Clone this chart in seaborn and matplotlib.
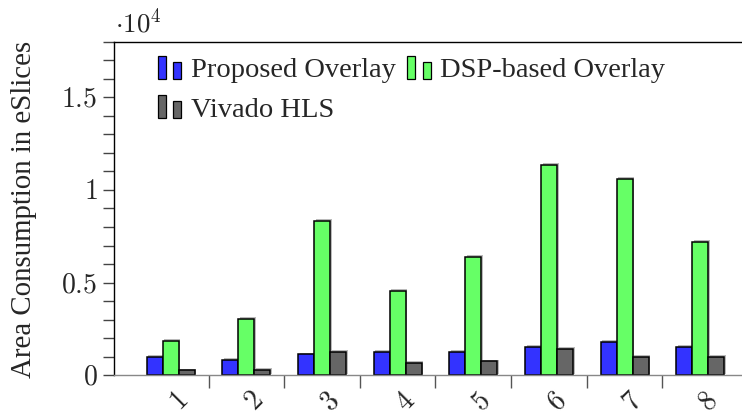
import numpy as np
import pandas as pd
import matplotlib
matplotlib.use("Agg")
import matplotlib.pyplot as plt
import matplotlib.patheffects as pe
import seaborn as sns
from matplotlib.legend_handler import HandlerBase
from matplotlib.patches import Rectangle
from matplotlib.ticker import MultipleLocator

# Area (eSlices) per benchmark for the three implementations
benchmarks = ["1", "2", "3", "4", "5", "6", "7", "8"]
proposed = [980, 830, 1130, 1260, 1250, 1540, 1810, 1520]
dsp_based = [1870, 3040, 8320, 4560, 6410, 11360, 10590, 7200]
vivado = [260, 300, 1260, 660, 750, 1430, 1000, 1000]

series = ["Proposed Overlay", "DSP-based Overlay", "Vivado HLS"]
colors = ["#3333ff", "#66ff66", "#666666"]

y_major = [0, 5000, 10000, 15000]
y_major_labels = ["$0$", "$0.5$", "$1$", "$1.5$"]

df = pd.DataFrame({
    "benchmark": benchmarks * 3,
    "design": np.repeat(series, len(benchmarks)),
    "area": proposed + dsp_based + vivado,
})

sns.set_theme(style="white")
plt.rcParams["font.family"] = ["Liberation Serif", "DejaVu Serif"]
plt.rcParams["mathtext.fontset"] = "cm"

W, H = 742, 419
fig = plt.figure(figsize=(W / 100, H / 100), dpi=100)
left_px, right_px, top_px, bot_px = 114, 757, 41.7, 375.3
ax = fig.add_axes([left_px / W, 1 - bot_px / H, (right_px - left_px) / W, (bot_px - top_px) / H])

sns.barplot(data=df, x="benchmark", y="area", hue="design", palette=colors,
            saturation=1, width=0.634, edgecolor="black", linewidth=1.1,
            errorbar=None, legend=False, ax=ax)

shadow = [pe.SimplePatchShadow(offset=(1.2, 1.2), shadow_rgbFace="0.55", alpha=0.6), pe.Normal()]
for bar in ax.patches:
    bar.set_path_effects(shadow)

ax.set_xlim(-0.75, 7.75)
ax.set_ylim(0, 18000)
ax.set_xlabel("")

# group separators as major ticks, benchmark ids as minor-tick labels
ax.set_xticks(np.arange(0.5, 7, 1.0), labels=[""] * 7)
ax.set_xticks(range(len(benchmarks)), labels=[f"${b}$" for b in benchmarks], minor=True)
ax.tick_params(axis="x", which="major", direction="out", length=9.4, width=1.0,
               color="#555555", bottom=True)
ax.tick_params(axis="x", which="minor", length=0, labelsize=20, pad=13, bottom=True)
for lab in ax.get_xticklabels(minor=True):
    lab.set_rotation(45)
    lab.set_rotation_mode("anchor")
    lab.set_ha("center")
    lab.set_va("top")

ax.set_yticks(y_major, labels=y_major_labels)
ax.yaxis.set_minor_locator(MultipleLocator(1000))
ax.tick_params(axis="y", which="both", direction="out", length=8, width=1.0,
               color="#444444", left=True, labelsize=20, pad=4)

for side in ("left", "top", "right"):
    ax.spines[side].set_color("black")
    ax.spines[side].set_linewidth(1.0)
ax.spines["bottom"].set_color("#888888")
ax.spines["bottom"].set_linewidth(1.0)

ax.set_ylabel("Area Consumption in eSlices", fontsize=20.8)
ax.yaxis.set_label_coords(37 / W, 1 - 209 / H, transform=fig.transFigure)

fig.text(115 / W, 1 - 31.7 / H, r"$\cdot 10^4$", fontsize=19.5, ha="left", va="baseline")


class TwoBarHandler(HandlerBase):
    """Legend key drawn as a pair of small bars."""

    def create_artists(self, legend, orig_handle, xdescent, ydescent,
                       width, height, fontsize, trans):
        fc = orig_handle.get_facecolor()
        x0, y0 = -xdescent, -ydescent
        bw = width * 8 / 24
        tall = Rectangle((x0, y0), bw, height, facecolor=fc, edgecolor="black",
                         linewidth=0.9, transform=trans)
        short = Rectangle((x0 + width * 15 / 24, y0), bw, height * 0.75, facecolor=fc,
                          edgecolor="black", linewidth=0.9, transform=trans)
        return [tall, short]


# legend fills column-wise, so order entries to read row-wise
order = [0, 2, 1]
handles = [Rectangle((0, 0), 1, 1, facecolor=colors[i]) for i in order]
labels = [series[i] for i in order]
leg = fig.legend(handles, labels, handler_map={Rectangle: TwoBarHandler()},
                 loc="upper left", bbox_to_anchor=(158 / W, 1 - 56 / H),
                 ncol=2, frameon=False, fontsize=20.5, borderpad=0, borderaxespad=0,
                 handlelength=0.86, handleheight=0.86, handletextpad=0.3,
                 columnspacing=0.4, labelspacing=0.42)

fig.savefig("out.png", dpi=100)
